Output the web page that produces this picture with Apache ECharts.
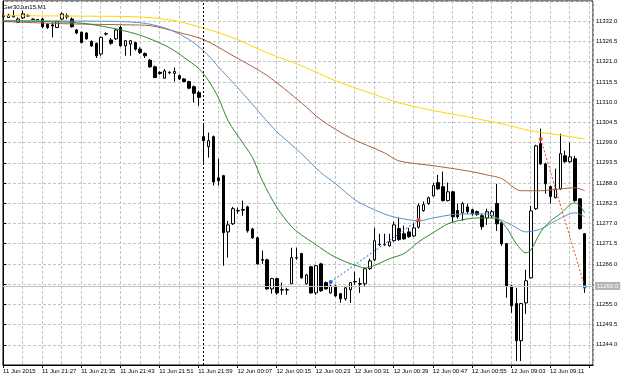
<!DOCTYPE html>
<html>
<head>
<meta charset="utf-8">
<script src="https://cdn.jsdelivr.net/npm/echarts@6/dist/echarts.min.js"></script>
<style>
  html, body { margin: 0; padding: 0; background: #fff; }
  #chart { width: 625px; height: 379px; }
</style>
</head>
<body>
<div id="chart"></div>
<script>
// Ger30Jun15, M1 - one candle per minute, index 0 = 11 Jun 21:19

/* labels under the time axis, one every 8 bars */
const tickLabels = ['11 Jun 2015', '11 Jun 21:27', '11 Jun 21:35', '11 Jun 21:43', '11 Jun 21:51',
    '11 Jun 21:59', '12 Jun 00:07', '12 Jun 00:15', '12 Jun 00:23', '12 Jun 00:31',
    '12 Jun 00:39', '12 Jun 00:47', '12 Jun 00:55', '12 Jun 09:03', '12 Jun 09:11'];

/* candles: [open, close, low, high] */
const candles = [
    [11333.2, 11333.6, 11332.9, 11334.0], [11333.0, 11333.6, 11332.9, 11334.0], [11333.5, 11333.2, 11333.0, 11335.0],
    [11331.7, 11332.6, 11331.5, 11333.0], [11332.9, 11334.0, 11332.6, 11334.9], [11333.6, 11333.4, 11333.2, 11333.8],
    [11332.6, 11332.5, 11332.4, 11332.7], [11332.5, 11332.4, 11332.3, 11332.6], [11332.6, 11330.5, 11330.1, 11332.9],
    [11331.2, 11330.3, 11329.9, 11331.4], [11331.0, 11330.7, 11327.6, 11331.7], [11330.3, 11331.9, 11330.1, 11332.1],
    [11332.6, 11334.0, 11332.3, 11334.4], [11333.5, 11333.2, 11332.6, 11334.1], [11332.6, 11330.5, 11330.3, 11333.0],
    [11329.6, 11328.8, 11328.5, 11329.9], [11329.0, 11326.2, 11326.0, 11329.2], [11328.8, 11327.2, 11327.0, 11329.0],
    [11326.5, 11325.3, 11325.0, 11326.8], [11326.0, 11322.6, 11322.0, 11326.2], [11323.1, 11327.6, 11322.6, 11327.8],
    [11328.5, 11328.6, 11328.1, 11329.0], [11326.9, 11326.0, 11325.6, 11327.4], [11327.2, 11329.6, 11326.9, 11329.9],
    [11330.3, 11325.3, 11325.1, 11330.8], [11325.3, 11326.7, 11322.6, 11326.8], [11325.8, 11326.7, 11322.6, 11326.9],
    [11326.2, 11324.4, 11324.0, 11326.4], [11324.4, 11323.5, 11323.1, 11324.9], [11323.2, 11322.6, 11322.0, 11323.5],
    [11321.4, 11319.6, 11319.3, 11321.7], [11319.6, 11316.7, 11316.5, 11319.9], [11318.1, 11317.8, 11317.4, 11318.4],
    [11316.5, 11318.5, 11316.3, 11319.0], [11318.1, 11318.0, 11317.6, 11318.4], [11317.8, 11318.3, 11315.6, 11319.4],
    [11317.2, 11316.3, 11316.0, 11317.5], [11316.3, 11315.6, 11315.4, 11316.5], [11315.6, 11313.8, 11313.5, 11315.8],
    [11314.2, 11312.4, 11309.9, 11314.5], [11312.6, 11311.3, 11309.0, 11313.1],
    // 12 Jun
    [11300.6, 11299.5, 11293.5, 11304.0], [11297.9, 11299.5, 11294.9, 11301.7], [11300.6, 11288.3, 11287.3, 11300.9],
    [11289.4, 11288.6, 11287.3, 11294.6], [11290.0, 11274.5, 11265.5, 11290.2], [11274.7, 11276.6, 11267.7, 11277.7],
    [11276.9, 11281.0, 11276.6, 11281.5], [11280.4, 11280.5, 11279.6, 11281.3], [11280.6, 11280.8, 11279.1, 11283.2],
    [11281.5, 11275.0, 11274.5, 11281.8], [11275.5, 11273.1, 11272.8, 11275.8], [11273.1, 11266.0, 11265.8, 11273.4],
    [11267.2, 11267.0, 11266.0, 11269.6], [11267.1, 11259.2, 11259.0, 11267.4], [11259.2, 11262.0, 11257.9, 11262.2],
    [11262.0, 11258.1, 11257.6, 11262.2], [11258.9, 11259.0, 11257.6, 11260.9], [11259.0, 11258.9, 11257.6, 11259.5],
    [11260.6, 11267.7, 11260.5, 11270.4], [11267.6, 11267.7, 11267.1, 11270.4], [11268.8, 11262.2, 11262.0, 11269.0],
    [11260.6, 11263.0, 11260.4, 11263.3], [11265.2, 11258.1, 11257.9, 11265.5], [11258.1, 11265.5, 11257.6, 11265.7],
    [11266.0, 11258.7, 11258.4, 11266.3], [11260.9, 11259.2, 11259.0, 11261.2], [11258.1, 11260.0, 11257.9, 11260.3],
    [11260.0, 11257.3, 11257.0, 11260.3], [11257.9, 11256.5, 11255.4, 11258.1], [11256.5, 11259.5, 11256.0, 11260.0],
    [11259.0, 11260.9, 11255.4, 11261.1], [11261.1, 11261.2, 11260.3, 11263.9], [11260.6, 11260.5, 11258.1, 11262.2],
    [11260.6, 11264.7, 11260.0, 11264.9], [11264.7, 11266.8, 11264.4, 11267.4], [11267.1, 11272.3, 11266.8, 11275.8],
    [11271.2, 11271.3, 11270.9, 11274.2], [11271.3, 11271.2, 11270.9, 11274.2], [11270.9, 11272.0, 11270.7, 11274.2],
    [11272.3, 11276.6, 11272.0, 11277.5], [11275.6, 11272.6, 11272.3, 11278.5], [11274.2, 11272.8, 11272.6, 11276.4],
    [11274.7, 11273.4, 11273.1, 11275.8], [11273.6, 11275.8, 11273.4, 11277.2], [11276.0, 11281.8, 11275.6, 11282.4],
    [11280.5, 11282.1, 11280.2, 11283.0], [11282.4, 11284.0, 11282.1, 11284.3], [11284.5, 11287.3, 11284.3, 11288.0],
    [11288.1, 11286.4, 11286.2, 11290.2], [11287.0, 11283.2, 11283.0, 11291.1], [11283.2, 11285.6, 11283.0, 11288.1],
    [11285.6, 11278.8, 11277.2, 11285.9], [11280.5, 11278.8, 11278.3, 11282.4], [11279.9, 11282.4, 11277.7, 11282.9],
    [11281.5, 11280.2, 11279.6, 11282.4], [11280.7, 11279.6, 11279.1, 11281.0], [11280.2, 11279.4, 11279.1, 11280.5],
    [11279.1, 11276.1, 11275.3, 11279.6], [11278.5, 11280.2, 11276.6, 11281.0], [11279.1, 11280.2, 11278.5, 11280.7],
    [11282.4, 11276.9, 11275.0, 11287.8], [11277.2, 11271.5, 11270.9, 11277.5], [11271.5, 11260.0, 11256.8, 11271.7],
    [11260.0, 11254.6, 11252.7, 11260.3], [11255.2, 11245.1, 11239.6, 11259.5], [11245.1, 11255.2, 11239.6, 11255.4],
    [11255.4, 11261.4, 11252.4, 11264.4], [11262.2, 11280.4, 11262.0, 11281.8], [11281.0, 11298.1, 11280.7, 11298.4],
    [11298.7, 11293.2, 11293.0, 11302.8], [11293.2, 11287.8, 11285.1, 11293.5], [11287.0, 11284.3, 11282.4, 11287.3],
    [11284.0, 11286.4, 11283.8, 11291.9], [11286.4, 11296.0, 11286.2, 11301.4], [11295.4, 11293.8, 11293.5, 11296.8],
    [11293.8, 11295.1, 11293.5, 11299.0], [11294.6, 11283.2, 11282.9, 11295.4], [11283.7, 11275.6, 11275.3, 11283.9],
    [11274.2, 11260.0, 11258.1, 11274.4]
];

/* moving averages, read as [bar index, price] */
const maYellow = [[0, 11333.5], [14, 11333.4], [27, 11333.2], [34, 11332.4], [40, 11330.5], [47, 11327.5],
    [54, 11323.4], [61, 11319.9], [68, 11315.8], [75, 11312.5], [81, 11309.8], [88, 11307.7], [95, 11306.0],
    [99, 11304.9], [102, 11304.1], [108, 11302.2], [112, 11301.4], [119, 11300.0]];
const maBrown = [[0, 11331.9], [13, 11331.3], [26, 11331.0], [30, 11330.8], [36, 11328.9], [41, 11327.0],
    [47, 11322.6], [54, 11317.2], [61, 11309.8], [65, 11305.2], [71, 11300.3], [78, 11296.2], [81, 11294.0],
    [88, 11292.7], [95, 11291.3], [99, 11290.2], [102, 11289.2], [106, 11285.9], [110, 11285.9], [114, 11286.4],
    [117, 11286.7], [119, 11285.9]];
const maBlue = [[0, 11332.1], [20, 11332.0], [28, 11331.6], [33, 11330.2], [37, 11327.8], [40, 11325.1],
    [42, 11322.6], [44, 11319.6], [47, 11315.3], [50, 11310.9], [53, 11306.3], [56, 11301.9], [61, 11296.0],
    [65, 11290.8], [68, 11287.8], [72, 11283.4], [75, 11281.3], [79, 11279.1], [83, 11278.0], [85, 11277.7],
    [88, 11278.5], [92, 11279.4], [96, 11279.6], [99, 11279.6], [101, 11278.5], [104, 11276.6], [107, 11274.7],
    [110, 11275.5], [113, 11277.7], [117, 11279.9], [119, 11278.8]];
const maGreen = [[0, 11332.1], [15, 11331.6], [22, 11330.2], [27, 11328.6], [30, 11327.2], [34, 11324.8],
    [37, 11322.1], [40, 11319.1], [42, 11315.8], [44, 11311.2], [46, 11304.9], [49, 11298.9], [51, 11294.9],
    [53, 11288.6], [56, 11281.3], [59, 11276.1], [61, 11273.9], [64, 11271.2], [67, 11268.5], [70, 11266.6],
    [73, 11265.2], [74, 11264.9], [76, 11265.6], [79, 11267.4], [82, 11268.8], [85, 11272.0], [88, 11274.5],
    [91, 11276.9], [94, 11278.0], [97, 11278.5], [99, 11278.5], [101, 11278.3], [103, 11275.8], [105, 11271.5],
    [107, 11269.0], [108, 11269.8], [110, 11274.7], [112, 11277.7], [114, 11279.6], [116, 11282.1], [117, 11282.6],
    [118, 11281.8], [119, 11279.9]];

/* trades: [bar index, price] open -> close */
const buyTrade = [[67, 11261.1], [85, 11278.0]];
const sellTrade = [[110, 11300.0], [119, 11259.8]];

const bidPrice = 11260.0;
const daySeparator = 41;

const chart = echarts.init(document.getElementById('chart'));

const gridLine = { color: '#c4c4c4', type: [3, 2], width: 1 };
const blue = '#1a66d6';
const red = '#ee4422';

function maSeries(data, color) {
    return {
        type: 'line',
        data: data,
        showSymbol: false,
        smooth: 0.3,
        silent: true,
        lineStyle: { color: color, width: 1 },
        z: 3
    };
}

function tradeSeries(points, lineColor, openColor, closeColor) {
    return {
        type: 'line',
        data: [
            { value: points[0], itemStyle: { color: openColor } },
            { value: points[1], itemStyle: { color: closeColor } }
        ],
        symbol: 'circle',
        symbolSize: 4,
        silent: true,
        lineStyle: { color: lineColor, width: 1, type: [2, 2] },
        z: 4
    };
}

const option = {
    animation: false,
    backgroundColor: '#fff',
    graphic: [{
        type: 'text', left: 3, top: 4,
        style: { text: 'Ger30Jun15,M1', fontSize: 6, fontFamily: 'Liberation Sans', fill: '#000' }
    }],
    grid: {
        left: 1, right: 32, top: 1, bottom: 14,
        show: true, borderColor: '#000', borderWidth: 1, backgroundColor: '#fff'
    },
    xAxis: {
        type: 'value',
        min: -0.1, max: 120.7, interval: 8,
        axisLine: { show: true, onZero: false, lineStyle: { color: '#000' } },
        axisTick: { show: true, length: 3, lineStyle: { color: '#000' } },
        axisLabel: {
            fontSize: 6, fontFamily: 'Liberation Sans', color: '#000', align: 'left', margin: 3,
            showMaxLabel: false,
            formatter: function (v) {
                const i = Math.round(v);
                return (i % 8 === 0 && tickLabels[i / 8]) || '';
            }
        },
        splitLine: { show: true, lineStyle: gridLine },
        minorTick: { show: false, splitNumber: 2 },
        minorSplitLine: { show: true, lineStyle: gridLine }
    },
    yAxis: {
        type: 'value', position: 'right',
        min: 11238.5, max: 11337.5, interval: 5.5,
        axisLine: { show: true, lineStyle: { color: '#000' } },
        axisTick: { show: true, length: 3, lineStyle: { color: '#000' } },
        axisLabel: {
            fontSize: 6, fontFamily: 'Liberation Sans', color: '#000', margin: 3,
            showMinLabel: false, showMaxLabel: false,
            formatter: v => v.toFixed(1)
        },
        splitLine: { show: true, lineStyle: gridLine }
    },
    series: [
        {
            type: 'candlestick',
            data: candles.map((c, i) => [i].concat(c)),
            barWidth: 3,
            silent: true,
            itemStyle: {
                color: '#fff', color0: '#000',
                borderColor: '#000', borderColor0: '#000', borderColorDoji: '#000',
                borderWidth: 1
            },
            markLine: {
                symbol: 'none', silent: true,
                data: [
                    {
                        yAxis: bidPrice,
                        lineStyle: { color: '#c0c0c0', type: 'solid', width: 1 },
                        label: {
                            show: true, position: 'end', distance: 2,
                            formatter: bidPrice.toFixed(1),
                            fontSize: 6, fontFamily: 'Liberation Sans', color: '#fff',
                            backgroundColor: '#b4b4b4', padding: [1, 2]
                        }
                    },
                    {
                        xAxis: daySeparator,
                        lineStyle: { color: '#000', type: [2, 2], width: 1 },
                        label: { show: false }
                    }
                ]
            },
            z: 2
        },
        maSeries(maYellow, '#ffd700'),
        maSeries(maBrown, '#a9603f'),
        maSeries(maBlue, '#5b93c9'),
        maSeries(maGreen, '#2f8a2f'),
        tradeSeries(buyTrade, blue, blue, red),
        tradeSeries(sellTrade, red, red, blue)
    ]
};

chart.setOption(option);
</script>
</body>
</html>
